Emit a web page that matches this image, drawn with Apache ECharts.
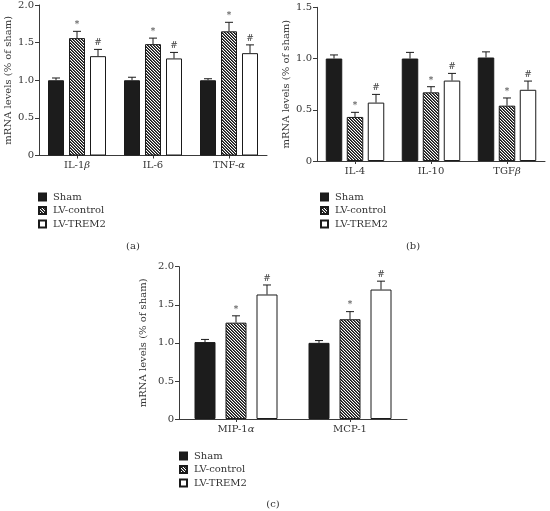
<!DOCTYPE html>
<html><head><meta charset="utf-8">
<script src="https://cdn.jsdelivr.net/npm/echarts@6/dist/echarts.min.js"></script>
<style>html,body{margin:0;padding:0;background:#fff}#c{width:550px;height:511px}</style>
</head><body><div id="c"></div>
<script>
// ---- Data ----
const seriesNames = ['Sham', 'LV-control', 'LV-TREM2'];
const marks = ['', '*', '#'];

const categoriesA = ['IL-1β', 'IL-6', 'TNF-α'];
const shamA = [1.00, 1.00, 1.00];
const shamErrA = [0.03, 0.04, 0.02];
const ctrlA = [1.56, 1.48, 1.65];
const ctrlErrA = [0.09, 0.08, 0.12];
const tremA = [1.32, 1.29, 1.36];
const tremErrA = [0.09, 0.08, 0.11];

const categoriesB = ['IL-4', 'IL-10', 'TGFβ'];
const shamB = [1.00, 1.00, 1.01];
const shamErrB = [0.035, 0.06, 0.055];
const ctrlB = [0.43, 0.67, 0.54];
const ctrlErrB = [0.045, 0.055, 0.075];
const tremB = [0.57, 0.785, 0.695];
const tremErrB = [0.08, 0.07, 0.085];

const categoriesC = ['MIP-1α', 'MCP-1'];
const shamC = [1.01, 1.00];
const shamErrC = [0.035, 0.03];
const ctrlC = [1.265, 1.31];
const ctrlErrC = [0.09, 0.10];
const tremC = [1.635, 1.70];
const tremErrC = [0.125, 0.11];

const yTicksA = [0, 0.5, 1.0, 1.5, 2.0];
const yTicksB = [0, 0.5, 1.0, 1.5];
const yTicksC = [0, 0.5, 1.0, 1.5, 2.0];

// ---- Styling ----
const FONT = '"DejaVu Serif", "Liberation Serif", serif';
const AX = '#3a3a3a';
const TXT = '#333';

function hatch() {
  const c = document.createElement('canvas');
  c.width = 6; c.height = 6;
  const ctx = c.getContext('2d');
  const img = ctx.createImageData(6, 6);
  for (let y = 0; y < 6; y++) for (let x = 0; x < 6; x++) {
    const k = ((x - y) % 3 + 3) % 3;
    const v = k === 0 ? 20 : (k === 1 ? 90 : 255);
    const i = (y * 6 + x) * 4;
    img.data[i] = v; img.data[i+1] = v; img.data[i+2] = v; img.data[i+3] = 255;
  }
  ctx.putImageData(img, 0, 0);
  return c;
}
const fills = ['#1c1c1c', {image: hatch(), repeat: 'repeat'}, '#ffffff'];

function fmtCat(v) {
  const m = v.match(/^(.*?)([αβ])$/);
  return m ? '{n|' + m[1] + '}{i|' + m[2] + '}' : '{n|' + v + '}';
}
const rich = {
  n: {fontFamily: FONT, fontSize: 10, color: TXT},
  i: {fontFamily: FONT, fontSize: 10, color: TXT, fontStyle: 'italic'}
};

const panels = [
  {cats: categoriesA, vals: [shamA, ctrlA, tremA], errs: [shamErrA, ctrlErrA, tremErrA], ticks: yTicksA,
   grid: {left: 39, top: 4, width: 228, height: 151.5}, barW: 16, gap: 5, nameGap: 26,
   legend: {left: 38, top: 192}, label: {x: 133, y: 246, t: '(a)'}},
  {cats: categoriesB, vals: [shamB, ctrlB, tremB], errs: [shamErrB, ctrlErrB, tremErrB], ticks: yTicksB,
   grid: {left: 317, top: 7.3, width: 228, height: 153.7}, barW: 16.5, gap: 4.5, nameGap: 26,
   legend: {left: 320, top: 192}, label: {x: 413, y: 246, t: '(b)'}},
  {cats: categoriesC, vals: [shamC, ctrlC, tremC], errs: [shamErrC, ctrlErrC, tremErrC], ticks: yTicksC,
   grid: {left: 179, top: 266.7, width: 228, height: 152.3}, barW: 21, gap: 10, nameGap: 31,
   legend: {left: 179, top: 451}, label: {x: 273, y: 504, t: '(c)'}}
];

const option = {
  animation: false,
  grid: [], xAxis: [], yAxis: [], series: [], legend: [], title: []
};

panels.forEach((p, gi) => {
  option.grid.push(Object.assign({containLabel: false}, p.grid));
  option.xAxis.push({
    type: 'category', gridIndex: gi, data: p.cats,
    axisLine: {lineStyle: {color: AX, width: 1}},
    axisTick: {show: true, alignWithLabel: true, length: 3, lineStyle: {color: AX}},
    axisLabel: {margin: 5, interval: 0, formatter: fmtCat, rich: rich}
  });
  const mx = p.ticks[p.ticks.length - 1];
  option.yAxis.push({
    type: 'value', gridIndex: gi, min: 0, max: mx, interval: 0.5,
    name: 'mRNA levels (% of sham)', nameLocation: 'middle', nameGap: p.nameGap,
    nameTextStyle: {fontFamily: FONT, fontSize: 10, color: TXT},
    axisLine: {show: true, lineStyle: {color: AX, width: 1}},
    axisTick: {show: true, length: 4, lineStyle: {color: AX}},
    splitLine: {show: false},
    axisLabel: {fontFamily: FONT, fontSize: 10, color: TXT, margin: 5,
      formatter: v => (p.ticks.indexOf(v) === -1 ? '' : (v === 0 ? '0' : v.toFixed(1)))}
  });
  seriesNames.forEach((nm, si) => {
    option.series.push({
      type: 'bar', name: nm, xAxisIndex: gi, yAxisIndex: gi,
      data: p.vals[si], barWidth: p.barW, barGap: (p.gap / p.barW * 100) + '%',
      itemStyle: {color: fills[si], borderColor: '#1a1a1a', borderWidth: 1},
      emphasis: {disabled: true}, z: 2
    });
  });
  seriesNames.forEach((nm, si) => {
    const data = p.vals[si].map((v, ci) => [ci, v, v + p.errs[si][ci]]);
    const offset = (si - 1) * (p.barW + p.gap);
    option.series.push({
      type: 'custom', xAxisIndex: gi, yAxisIndex: gi, z: 5, silent: true,
      data: data,
      renderItem: function (params, api) {
        const base = api.coord([api.value(0), api.value(1)]);
        const top = api.coord([api.value(0), api.value(2)]);
        const x = base[0] + offset;
        const cw = 4;
        const children = [
          {type: 'line', shape: {x1: x, y1: base[1], x2: x, y2: top[1]}, style: {stroke: '#1a1a1a', lineWidth: 1}},
          {type: 'line', shape: {x1: x - cw, y1: top[1], x2: x + cw, y2: top[1]}, style: {stroke: '#1a1a1a', lineWidth: 1}}
        ];
        if (marks[si]) {
          children.push({type: 'text', x: x, y: top[1] - 2,
            style: {text: marks[si], fontFamily: FONT, fontSize: 9, fill: '#444', align: 'center', verticalAlign: 'bottom'}});
        }
        return {type: 'group', children: children};
      }
    });
  });
  option.legend.push({
    left: p.legend.left, top: p.legend.top, orient: 'vertical', padding: 0,
    data: seriesNames, itemWidth: 7, itemHeight: 7, itemGap: 3.5, selectedMode: false,
    icon: 'rect',
    textStyle: {fontFamily: FONT, fontSize: 10, color: TXT, padding: [0, 0, 0, 2]}
  });
  option.title.push({
    text: p.label.t, left: p.label.x, top: p.label.y, padding: 0, textAlign: 'center', textVerticalAlign: 'middle',
    textStyle: {fontFamily: FONT, fontSize: 10, fontWeight: 'normal', color: TXT}
  });
});

const chart = echarts.init(document.getElementById('c'), null, {renderer: 'canvas'});
chart.setOption(option);
</script></body></html>
